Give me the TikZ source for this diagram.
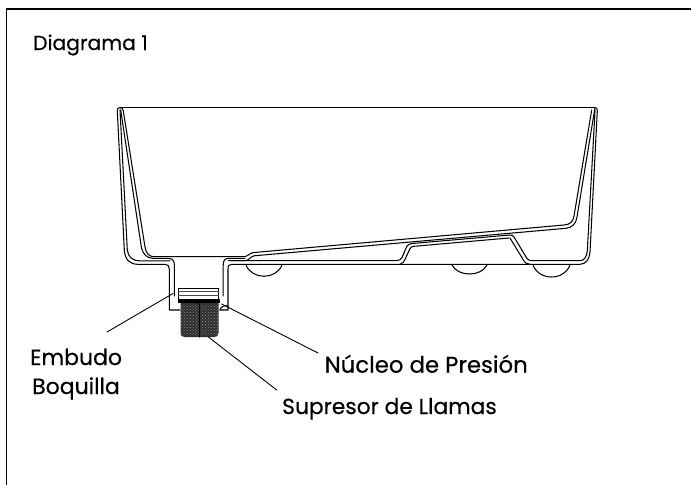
\documentclass[tikz,border=0pt]{standalone}
\usepackage{fontspec}
\setmainfont[RawFeature={embolden=0.5}]{Poppins}
\usetikzlibrary{arrows}
\usetikzlibrary{patterns}
\tikzset{
  sheet/.style={line width=1.05pt},
  leader/.style={line width=0.9pt},
  lbl/.style={font=\fontsize{22}{26}\selectfont,inner sep=0pt,anchor=base west},
  lblsmall/.style={lbl,font=\fontsize{20.3}{24}\selectfont},
  lblwide/.style={lbl,font=\fontsize{22.8}{26}\selectfont}
}
\begin{document}
\begin{tikzpicture}[line cap=round,line join=round,x=1pt,y=-1pt]
      \useasboundingbox (0,0) rectangle (691,485);
      % frame
      \draw[line width=1.5pt,line cap=butt] (6.5,485) -- (6.5,8.8) -- (691,8.8);
      \node[lblsmall] (title) at (33,50) {Diagrama 1};
      % rollers
      \draw[sheet] (246,265) .. controls (252,280) and (276,280) .. (282,265);
      \draw[sheet] (452,265) .. controls (458,277) and (481,277) .. (487,265);
      \draw[sheet] (533,265) .. controls (539,281) and (564,281) .. (570,265);
      % top edge and lips
      \draw[sheet] (120,107.7) -- (595,107.7);
      \draw[sheet] (117.3,111) .. controls (117.2,108.5) and (118,107.5) .. (120,107.7)
        .. controls (122,107.7) and (122.8,108.5) .. (123.3,111);
      \draw[sheet] (595,107.7) .. controls (596.5,107.5) and (597.4,108.5) .. (597.3,111);
      % outer skin left
      \draw[sheet] (117.3,111) -- (124.3,250) .. controls (125,260) and (130,264.3) .. (138,264.3)
        -- (165,264.3) .. controls (168,264.3) and (169.3,266) .. (169.3,269) -- (169.3,310) -- (180,310);
      \draw[sheet] (120,110) -- (127.3,250) .. controls (128,257) and (133,260.8) .. (139,260.8)
        -- (170,260.8);
      % inner skin left
      \draw[sheet] (123.3,111) -- (145,247) .. controls (146,253) and (149,256.7) .. (154,256.7);
      \draw[sheet] (120.7,110) -- (141.5,248) .. controls (143,254) and (147,258.3) .. (153,258.3)
        -- (168,258.3) .. controls (172,258.3) and (174.4,260.5) .. (174.4,265) -- (174.4,296);
      % mouth and sloping floor
      \draw[sheet] (154,256.7) -- (245,256.7) .. controls (248,256.5) and (249,253.5) .. (253,252.6)
        -- (564,225) .. controls (570,224.5) and (573,222) .. (574,216) -- (591.7,110);
      \draw[sheet] (230,258.3) -- (245,258.3) (231,260.7) -- (245,260.7) .. controls (249,260.5) and (250,257) .. (254,255.8)
        -- (566,228.3) .. controls (572,227.5) and (576,224) .. (577,217) -- (595,107.7);
      \draw[sheet] (223.2,296) -- (223.2,265) .. controls (223.2,260) and (225,258.3) .. (230,258.3);
      % outer skin right
      \draw[sheet] (220,310) -- (228,310) -- (228,269) .. controls (228,265.5) and (229,264.3) .. (232,264.3)
        -- (580,264.3) .. controls (586,264.3) and (589.5,259) .. (590,252) -- (597.3,111);
      % raised floor panels
      \draw[sheet] (228.5,260.7) -- (396,260.7) .. controls (399,260.7) and (401,259.5) .. (402,257.5)
        -- (407,246) .. controls (408,244.5) and (410,243.8) .. (412,243.5)
        -- (510,235) .. controls (512,235) and (513,235.5) .. (514,237)
        -- (527,258.5) .. controls (528.5,260.5) and (530,260.7) .. (533,260.7) -- (580,260.7)
        .. controls (584,260.7) and (586.7,257) .. (587.3,251) -- (595,111);
      \draw[sheet] (400,264.3) .. controls (402.5,263.5) and (404,261.5) .. (405,259.5) -- (410,248.5)
        .. controls (411,247) and (412,246.5) .. (414,246.3) -- (509,238);
      \draw[sheet] (510,238) -- (524,261) .. controls (525,263) and (527,264) .. (530,264.3);
      % nozzle
      \draw[line width=1pt] (178.5,288) rectangle (218.5,300);
      \draw[line width=0.7pt,black!70] (178.5,291.5) -- (218.5,291.5);
      \draw[line width=0.7pt,black!70] (178.5,295) -- (218.5,295);
      \fill[black!82] (180.5,300) -- (218.5,300) -- (218.5,333)
        .. controls (218.5,336) and (217,337) .. (214,337) -- (185,337)
        .. controls (182,337) and (180.5,336) .. (180.5,333) -- cycle;
      \fill[pattern=crosshatch dots,pattern color=black!45] (181,304) rectangle (218,335);
      \fill[black] (177.5,299) rectangle (220,303);
      \draw[line width=1pt] (199,300) -- (199,337);
      \draw[sheet] (220,310) .. controls (220.5,307) and (224,305) .. (228,306);
      % labels with leaders
      \node[lbl] (embudo) at (30,365) {Embudo};
      \node[lbl] (boquilla) at (32,394) {Boquilla};
      \node[lblwide] (nucleo) at (324.5,372.7) {Núcleo de Presión};
      \node[lbl,font=\fontsize{21.8}{26}\selectfont] (supresor) at (282,414) {Supresor de Llamas};
      \coordinate (funnelpt) at (173,293.5);
      \coordinate (embudoend) at (107,332);
      \coordinate (corept) at (221.7,304);
      \coordinate (nucleoend) at (318,353);
      \coordinate (meshpt) at (208,336.7);
      \coordinate (supresorend) at (276.7,390);
      \draw[leader] (funnelpt) -- (embudoend);
      \draw[leader] (corept) -- (nucleoend);
      \draw[leader] (meshpt) -- (supresorend);
    \end{tikzpicture}
\end{document}
